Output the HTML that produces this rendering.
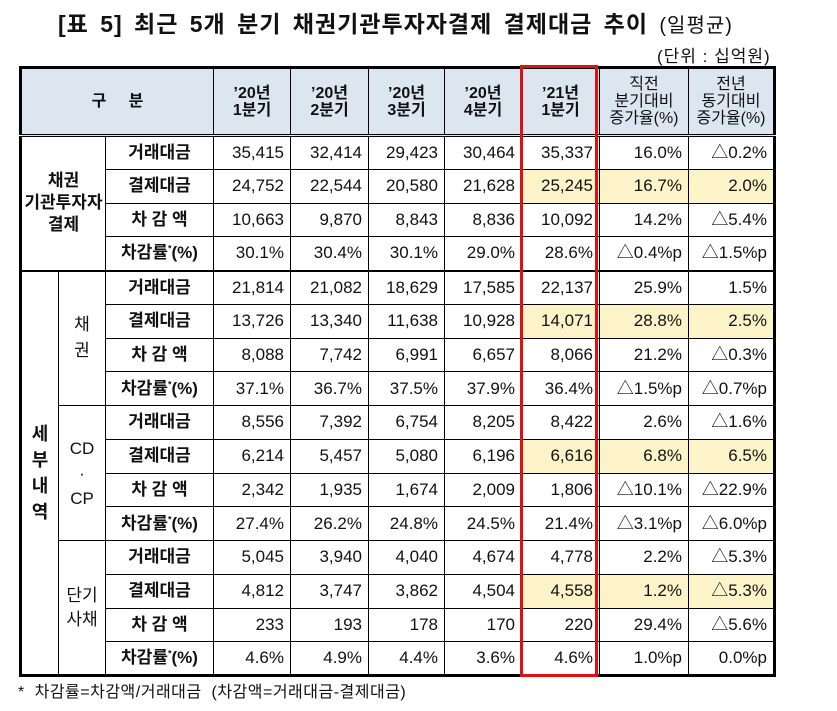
<!DOCTYPE html>
<html><head><meta charset="utf-8">
<style>
body{margin:0;width:837px;height:711px;background:#fff;position:relative;font-family:"Liberation Sans","Noto Sans CJK KR","NanumGothic",sans-serif;color:#111;overflow:hidden}
#title{position:absolute;left:58px;top:5px;font-size:23px;font-weight:bold;letter-spacing:1px;word-spacing:4px;white-space:nowrap}
#title span{font-weight:normal;font-size:20px;word-spacing:0}
#unit{position:absolute;left:657px;top:42px;font-size:17px;letter-spacing:1px;white-space:nowrap}
table{position:absolute;left:19px;top:66px;border-collapse:collapse;table-layout:fixed;width:755px;border:3px solid #000}
td,th{border:1px solid #000;padding:0;font-size:17px;box-sizing:border-box;vertical-align:middle;line-height:20px}
tr.r{height:33.75px}
th{background:#dce6f1;font-weight:bold;height:68px;line-height:17px;border-bottom:3px double #000;font-size:16px}
td.n{text-align:right;padding-right:6px}
td.l{text-align:center;font-weight:bold}
td.g{text-align:center}
.y{background:#fdf3c8}
tr.sep td{border-top:2px solid #000}
#red{position:absolute;left:520px;top:65px;width:78px;height:612px;border:3px solid #e01010;box-sizing:border-box}
#foot{position:absolute;left:18px;top:678px;font-size:16px;letter-spacing:0.5px}
sup{font-size:9px;line-height:0}
</style></head><body>
<div id="title">[표 5] 최근 5개 분기 채권기관투자자결제 결제대금 추이 <span>(일평균)</span></div>
<div id="unit">(단위 : 십억원)</div>
<table>
<colgroup><col style="width:38px"><col style="width:47px"><col style="width:108px"><col style="width:77px"><col style="width:78px"><col style="width:76px"><col style="width:77px"><col style="width:78px"><col style="width:89px"><col style="width:86px"></colgroup>
<tr><th colspan="3">구 &nbsp; &nbsp; 분</th><th>’20년<br>1분기</th><th>’20년<br>2분기</th><th>’20년<br>3분기</th><th>’20년<br>4분기</th><th>’21년<br>1분기</th><th style="font-weight:normal">직전<br>분기대비<br>증가율(%)</th><th style="font-weight:normal">전년<br>동기대비<br>증가율(%)</th></tr>
<tr class="r"><td colspan="2" rowspan="4" class="g" style="font-weight:bold;line-height:22px">채권<br>기관투자자<br>결제</td><td class="l">거래대금</td><td class="n">35,415</td><td class="n">32,414</td><td class="n">29,423</td><td class="n">30,464</td><td class="n">35,337</td><td class="n">16.0%</td><td class="n">△0.2%</td></tr>
<tr class="r"><td class="l">결제대금</td><td class="n">24,752</td><td class="n">22,544</td><td class="n">20,580</td><td class="n">21,628</td><td class="n y">25,245</td><td class="n y">16.7%</td><td class="n y">2.0%</td></tr>
<tr class="r"><td class="l">차 감 액</td><td class="n">10,663</td><td class="n">9,870</td><td class="n">8,843</td><td class="n">8,836</td><td class="n">10,092</td><td class="n">14.2%</td><td class="n">△5.4%</td></tr>
<tr class="r"><td class="l">차감률<sup>*</sup>(%)</td><td class="n">30.1%</td><td class="n">30.4%</td><td class="n">30.1%</td><td class="n">29.0%</td><td class="n">28.6%</td><td class="n">△0.4%p</td><td class="n">△1.5%p</td></tr>
<tr class="r sep"><td rowspan="12" class="g" style="font-weight:bold;font-size:18px;line-height:26px">세<br>부<br>내<br>역</td><td rowspan="4" class="g" style="line-height:26px">채<br>권</td><td class="l">거래대금</td><td class="n">21,814</td><td class="n">21,082</td><td class="n">18,629</td><td class="n">17,585</td><td class="n">22,137</td><td class="n">25.9%</td><td class="n">1.5%</td></tr>
<tr class="r"><td class="l">결제대금</td><td class="n">13,726</td><td class="n">13,340</td><td class="n">11,638</td><td class="n">10,928</td><td class="n y">14,071</td><td class="n y">28.8%</td><td class="n y">2.5%</td></tr>
<tr class="r"><td class="l">차 감 액</td><td class="n">8,088</td><td class="n">7,742</td><td class="n">6,991</td><td class="n">6,657</td><td class="n">8,066</td><td class="n">21.2%</td><td class="n">△0.3%</td></tr>
<tr class="r"><td class="l">차감률<sup>*</sup>(%)</td><td class="n">37.1%</td><td class="n">36.7%</td><td class="n">37.5%</td><td class="n">37.9%</td><td class="n">36.4%</td><td class="n">△1.5%p</td><td class="n">△0.7%p</td></tr>
<tr class="r"><td rowspan="4" class="g" style="line-height:25px">CD<br>·<br>CP</td><td class="l">거래대금</td><td class="n">8,556</td><td class="n">7,392</td><td class="n">6,754</td><td class="n">8,205</td><td class="n">8,422</td><td class="n">2.6%</td><td class="n">△1.6%</td></tr>
<tr class="r"><td class="l">결제대금</td><td class="n">6,214</td><td class="n">5,457</td><td class="n">5,080</td><td class="n">6,196</td><td class="n y">6,616</td><td class="n y">6.8%</td><td class="n y">6.5%</td></tr>
<tr class="r"><td class="l">차 감 액</td><td class="n">2,342</td><td class="n">1,935</td><td class="n">1,674</td><td class="n">2,009</td><td class="n">1,806</td><td class="n">△10.1%</td><td class="n">△22.9%</td></tr>
<tr class="r"><td class="l">차감률<sup>*</sup>(%)</td><td class="n">27.4%</td><td class="n">26.2%</td><td class="n">24.8%</td><td class="n">24.5%</td><td class="n">21.4%</td><td class="n">△3.1%p</td><td class="n">△6.0%p</td></tr>
<tr class="r"><td rowspan="4" class="g" style="line-height:24px">단기<br>사채</td><td class="l">거래대금</td><td class="n">5,045</td><td class="n">3,940</td><td class="n">4,040</td><td class="n">4,674</td><td class="n">4,778</td><td class="n">2.2%</td><td class="n">△5.3%</td></tr>
<tr class="r"><td class="l">결제대금</td><td class="n">4,812</td><td class="n">3,747</td><td class="n">3,862</td><td class="n">4,504</td><td class="n y">4,558</td><td class="n y">1.2%</td><td class="n y">△5.3%</td></tr>
<tr class="r"><td class="l">차 감 액</td><td class="n">233</td><td class="n">193</td><td class="n">178</td><td class="n">170</td><td class="n">220</td><td class="n">29.4%</td><td class="n">△5.6%</td></tr>
<tr class="r"><td class="l">차감률<sup>*</sup>(%)</td><td class="n">4.6%</td><td class="n">4.9%</td><td class="n">4.4%</td><td class="n">3.6%</td><td class="n">4.6%</td><td class="n">1.0%p</td><td class="n">0.0%p</td></tr>
</table>
<div id="red"></div>
<div id="foot">* &nbsp;차감률=차감액/거래대금 &nbsp;(차감액=거래대금-결제대금)</div>
</body></html>
